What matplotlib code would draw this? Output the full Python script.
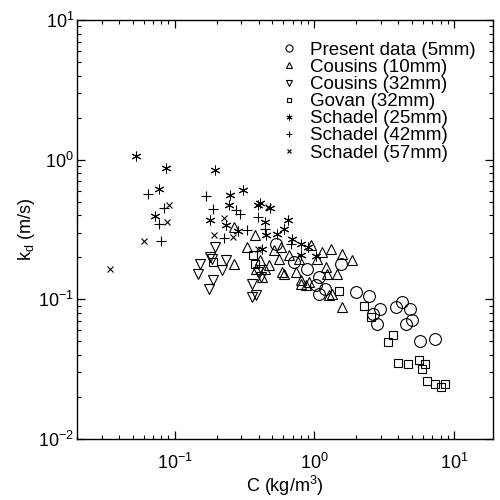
import matplotlib
matplotlib.use("Agg")
import matplotlib.pyplot as plt

plt.rcParams['font.family'] = ['Liberation Sans', 'DejaVu Sans']
plt.rcParams['mathtext.fontset'] = 'custom'
plt.rcParams['mathtext.rm'] = 'Liberation Sans'
plt.rcParams['mathtext.it'] = 'Liberation Sans:italic'
plt.rcParams['mathtext.bf'] = 'Liberation Sans:bold'

# Present data (5mm)
present_C = [0.535, 0.72, 0.891, 1.086, 1.033, 1.2, 1.086, 1.56, 2.0, 2.47, 2.96, 2.64,
             2.82, 3.85, 4.25, 4.85, 5.01, 4.54, 5.71, 7.31]
present_k = [0.25, 0.186, 0.166, 0.145, 0.127, 0.119, 0.109, 0.18, 0.113, 0.106, 0.0855, 0.0787,
             0.0667, 0.0883, 0.096, 0.0855, 0.0713, 0.0667, 0.0504, 0.0521]

# Cousins (10mm)
cous10_C = [0.268, 0.327, 0.373, 0.405, 0.44, 0.477, 0.518, 0.591, 0.562, 0.743, 0.807, 0.877,
            0.952, 1.14, 1.322, 1.218, 1.345, 0.581, 0.61, 0.807, 0.921, 1.585, 1.87, 1.28,
            1.585, 1.46, 1.239, 0.268, 0.385, 0.425, 0.663, 0.78, 1.05]
cous10_k = [0.18, 0.238, 0.29, 0.192, 0.166, 0.177, 0.226, 0.157, 0.195, 0.157, 0.138, 0.127,
            0.246, 0.219, 0.23, 0.171, 0.109, 0.238, 0.152, 0.129, 0.133, 0.212, 0.192, 0.108,
            0.0883, 0.152, 0.152, 0.331, 0.166, 0.145, 0.208, 0.195, 0.195]

# Cousins (32mm)
cous32_C = [0.196, 0.151, 0.148, 0.184, 0.187, 0.175, 0.235, 0.217, 0.392, 0.355, 0.355, 0.385,
            0.418, 0.178]
cous32_k = [0.238, 0.18, 0.152, 0.195, 0.138, 0.119, 0.192, 0.163, 0.157, 0.129, 0.104, 0.108,
            0.145, 0.202]

# Govan (32mm)
govan_C = [0.187, 0.361, 0.373, 1.51, 2.28, 2.55, 3.38, 3.67, 3.98, 4.69, 5.62, 5.91, 6.21,
           6.41, 7.31, 8.07, 8.62]
govan_k = [0.186, 0.208, 0.18, 0.115, 0.0898, 0.075, 0.0496, 0.0557, 0.0351, 0.0345, 0.0368,
           0.0318, 0.0345, 0.0261, 0.0248, 0.0236, 0.0248]

# Schadel (25mm)
sch25_C = [0.0527, 0.0862, 0.0768, 0.072, 0.196, 0.251, 0.311, 0.243, 0.178, 0.235, 0.286,
           0.398, 0.44, 0.405, 0.485, 0.652, 0.61, 0.544, 0.697, 0.807, 0.906, 0.807, 1.033,
           0.425, 0.454]
sch25_k = [1.07, 0.877, 0.62, 0.397, 0.848, 0.561, 0.61, 0.476, 0.371, 0.342, 0.31,
           0.476, 0.36, 0.492, 0.453, 0.371, 0.32, 0.295, 0.272, 0.25, 0.238, 0.208, 0.205,
           0.23, 0.29]

# Schadel (42mm)
sch42_C = [0.0642, 0.0834, 0.0768, 0.0794, 0.169, 0.187, 0.277, 0.296, 0.224, 0.327, 0.392,
           0.44, 0.685]
sch42_k = [0.57, 0.453, 0.348, 0.263, 0.552, 0.446, 0.438, 0.41, 0.276, 0.315, 0.39,
           0.32, 0.25]

# Schadel (57mm)
sch57_C = [0.0906, 0.0877, 0.0601, 0.0343, 0.224, 0.19, 0.26, 0.462, 0.392]
sch57_k = [0.476, 0.36, 0.263, 0.166, 0.384, 0.29, 0.281, 0.46, 0.23]

labels = ['Present data (5mm)', 'Cousins (10mm)', 'Cousins (32mm)', 'Govan (32mm)',
          'Schadel (25mm)', 'Schadel (42mm)', 'Schadel (57mm)']

fig = plt.figure(figsize=(5, 5), dpi=100)
ax = fig.add_axes([0.154, 0.122, 0.832, 0.838])

series = [
    (present_C, present_k, 'o', 8.5, 0.8),
    (cous10_C, cous10_k, '^', 7.0, 0.8),
    (cous32_C, cous32_k, 'v', 7.0, 0.8),
    (govan_C, govan_k, 's', 6.0, 0.8),
    (sch25_C, sch25_k, (6, 2, 0), 7.0, 0.7),
    (sch42_C, sch42_k, '+', 7.0, 0.8),
    (sch57_C, sch57_k, 'x', 5.0, 0.8),
]
for (xs, ys, m, ms, mew), lab in zip(series, labels):
    ax.plot(xs, ys, linestyle='none', marker=m, markersize=ms, markerfacecolor='none',
            markeredgecolor='black', markeredgewidth=mew, color='black', label=lab)

ax.set_xscale('log')
ax.set_yscale('log')
ax.set_xlim(0.02, 19)
ax.set_ylim(0.01, 10)

ax.tick_params(which='both', direction='in', top=True, right=True, labelsize=13, colors='black')
ax.tick_params(which='major', length=6, width=0.9)
ax.tick_params(which='minor', length=3, width=0.8)
ax.tick_params(axis='x', which='major', pad=10)
ax.tick_params(axis='y', which='major', pad=2)
for s in ax.spines.values():
    s.set_linewidth(1.0)
    s.set_color('black')

ax.set_xlabel(r'C (kg/m$^3$)', fontsize=13, labelpad=1)
ax.set_ylabel(r'k$_\mathrm{d}$ (m/s)', fontsize=13, labelpad=1)

leg = ax.legend(loc='upper right', bbox_to_anchor=(0.985, 0.975), frameon=False, fontsize=13.5,
                markerscale=0.6, handlelength=1.0, handletextpad=0.6, labelspacing=0.0,
                borderaxespad=0.2)

fig.savefig('out.png', dpi=100)
